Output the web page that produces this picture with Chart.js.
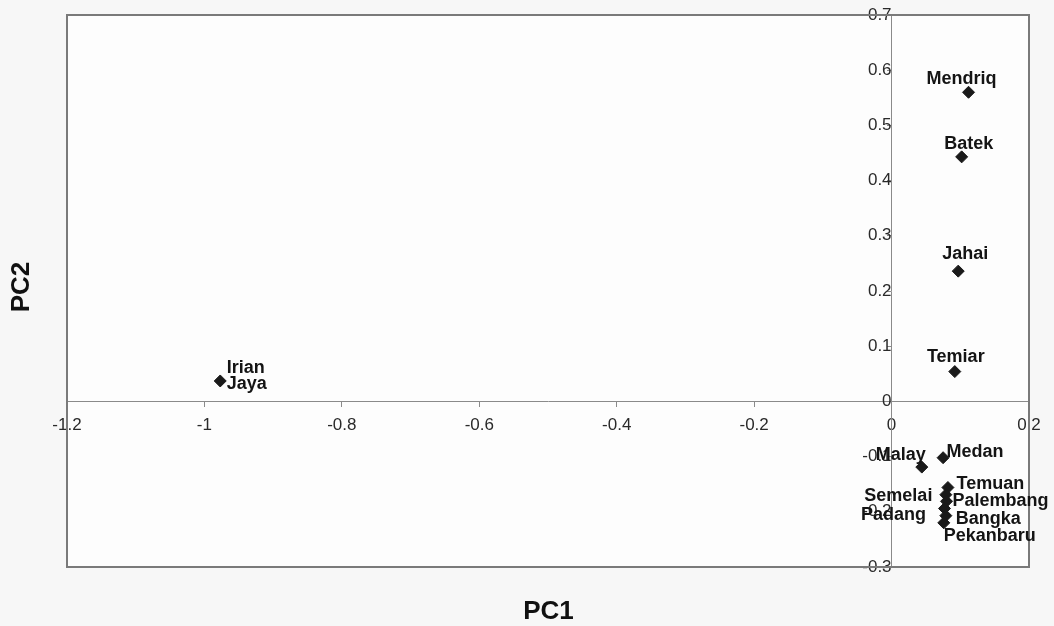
<!DOCTYPE html>
<html>
<head>
<meta charset="utf-8">
<script src="https://cdn.jsdelivr.net/npm/chart.js@4"></script>
<style>
  html, body { margin: 0; padding: 0; background: #f7f7f7; }
  #wrap { width: 1054px; height: 626px; position: relative; }
  canvas { display: block; }
</style>
</head>
<body>
<div id="wrap"><canvas id="pca" width="1054" height="626"></canvas></div>
<script>
// Population scores on the first two principal components
const populations = ['Mendriq', 'Batek', 'Jahai', 'Temiar', 'Irian Jaya', 'Malay', 'Medan',
                     'Temuan', 'Semelai', 'Palembang', 'Padang', 'Bangka', 'Pekanbaru'];
const pc1 = [0.112, 0.102, 0.097, 0.092, -0.977, 0.044, 0.075,
             0.082, 0.079, 0.080, 0.077, 0.079, 0.076];
const pc2 = [0.560, 0.443, 0.236, 0.054, 0.037, -0.119, -0.102,
             -0.156, -0.169, -0.181, -0.194, -0.207, -0.220];

const pc1Ticks = [-1.2, -1, -0.8, -0.6, -0.4, -0.2, 0, 0.2];
const pc2Ticks = [-0.3, -0.2, -0.1, 0, 0.1, 0.2, 0.3, 0.4, 0.5, 0.6, 0.7];

// Where each name sits relative to its marker (text centre / cap middle, px)
const labelPlacement = [
  { dx: -7, dy: -15 },            // Mendriq
  { dx: 7, dy: -14 },             // Batek
  { dx: 7, dy: -19 },             // Jahai
  { dx: 1, dy: -16 },             // Temiar
  { dx: 6.5, dy: -14.5, align: 'left', wrap: true, lineGap: 16.5 }, // Irian Jaya
  { dx: -21, dy: -14 },           // Malay
  { dx: 32, dy: -7 },             // Medan
  { dx: 42.5, dy: -5 },           // Temuan
  { dx: -47.5, dy: 0 },           // Semelai
  { dx: 54, dy: -2 },             // Palembang
  { dx: -51, dy: 5 },             // Padang
  { dx: 42.5, dy: 2 },            // Bangka
  { dx: 46, dy: 12 }              // Pekanbaru
];

const FONT = '"Liberation Sans", Arial, Helvetica, sans-serif';
const AXIS_GREY = '#8a8a8a';

const points = pc1.map((x, i) => ({ x: x, y: pc2[i] }));

const frameAndLabels = {
  id: 'frameAndLabels',
  beforeDraw(chart) {
    const { ctx, chartArea: a } = chart;
    ctx.save();
    ctx.fillStyle = '#fdfdfd';
    ctx.fillRect(a.left, a.top, a.right - a.left, a.bottom - a.top);
    ctx.restore();
  },
  afterDatasetsDraw(chart) {
    const { ctx, chartArea: a } = chart;
    ctx.save();
    // plot frame
    ctx.strokeStyle = '#7a7a7a';
    ctx.lineWidth = 2;
    ctx.strokeRect(a.left, a.top, a.right - a.left, a.bottom - a.top);

    // population names
    const meta = chart.getDatasetMeta(0);
    const size = 18;
    const capHalf = 0.358 * size;
    ctx.font = 'bold ' + size + 'px ' + FONT;
    ctx.fillStyle = '#141414';
    ctx.textBaseline = 'alphabetic';
    meta.data.forEach((el, i) => {
      const p = labelPlacement[i];
      const name = populations[i];
      ctx.textAlign = p.align || 'center';
      const lines = p.wrap ? name.split(' ') : [name];
      lines.forEach((line, k) => {
        const y = el.y + p.dy + k * (p.lineGap || 20) + capHalf;
        ctx.fillText(line, el.x + p.dx, y);
      });
    });

    // axis titles
    ctx.font = 'bold 26px ' + FONT;
    ctx.fillStyle = '#111';
    ctx.textAlign = 'center';
    ctx.textBaseline = 'middle';
    ctx.fillText('PC1', (a.left + a.right) / 2 + 0.5, 612);
    ctx.translate(22, 287);
    ctx.rotate(-Math.PI / 2);
    ctx.fillText('PC2', 0, 0);
    ctx.restore();
  }
};

new Chart(document.getElementById('pca'), {
  type: 'scatter',
  data: {
    datasets: [{
      data: points,
      pointStyle: 'rectRot',
      pointRadius: 6,
      pointHoverRadius: 6,
      backgroundColor: '#1a1a1a',
      borderColor: '#1a1a1a',
      borderWidth: 1
    }]
  },
  options: {
    responsive: false,
    devicePixelRatio: 1,
    animation: false,
    events: [],
    layout: { padding: { left: 67, top: 15, right: 25, bottom: 59 } },
    plugins: { legend: { display: false }, tooltip: { enabled: false } },
    scales: {
      x: {
        type: 'linear',
        min: -1.2, max: 0.2,
        position: { y: 0 },
        afterBuildTicks(scale) { scale.ticks = pc1Ticks.map(v => ({ value: v })); },
        ticks: {
          autoSkip: false,
          maxRotation: 0,
          padding: 9,
          color: '#2a2a2a',
          font: { family: FONT, size: 17 },
          callback: v => String(v)
        },
        grid: { drawOnChartArea: false, drawTicks: true, tickLength: 5, color: AXIS_GREY },
        border: { display: true, color: AXIS_GREY, width: 1 }
      },
      y: {
        type: 'linear',
        min: -0.3, max: 0.7,
        position: { x: 0 },
        afterBuildTicks(scale) { scale.ticks = pc2Ticks.map(v => ({ value: v })); },
        ticks: {
          autoSkip: false,
          padding: 4,
          color: '#2a2a2a',
          font: { family: FONT, size: 17 },
          callback: v => String(v)
        },
        grid: { drawOnChartArea: false, drawTicks: true, tickLength: 4, color: AXIS_GREY },
        border: { display: true, color: AXIS_GREY, width: 1 }
      }
    }
  },
  plugins: [frameAndLabels]
});
</script>
</body>
</html>
